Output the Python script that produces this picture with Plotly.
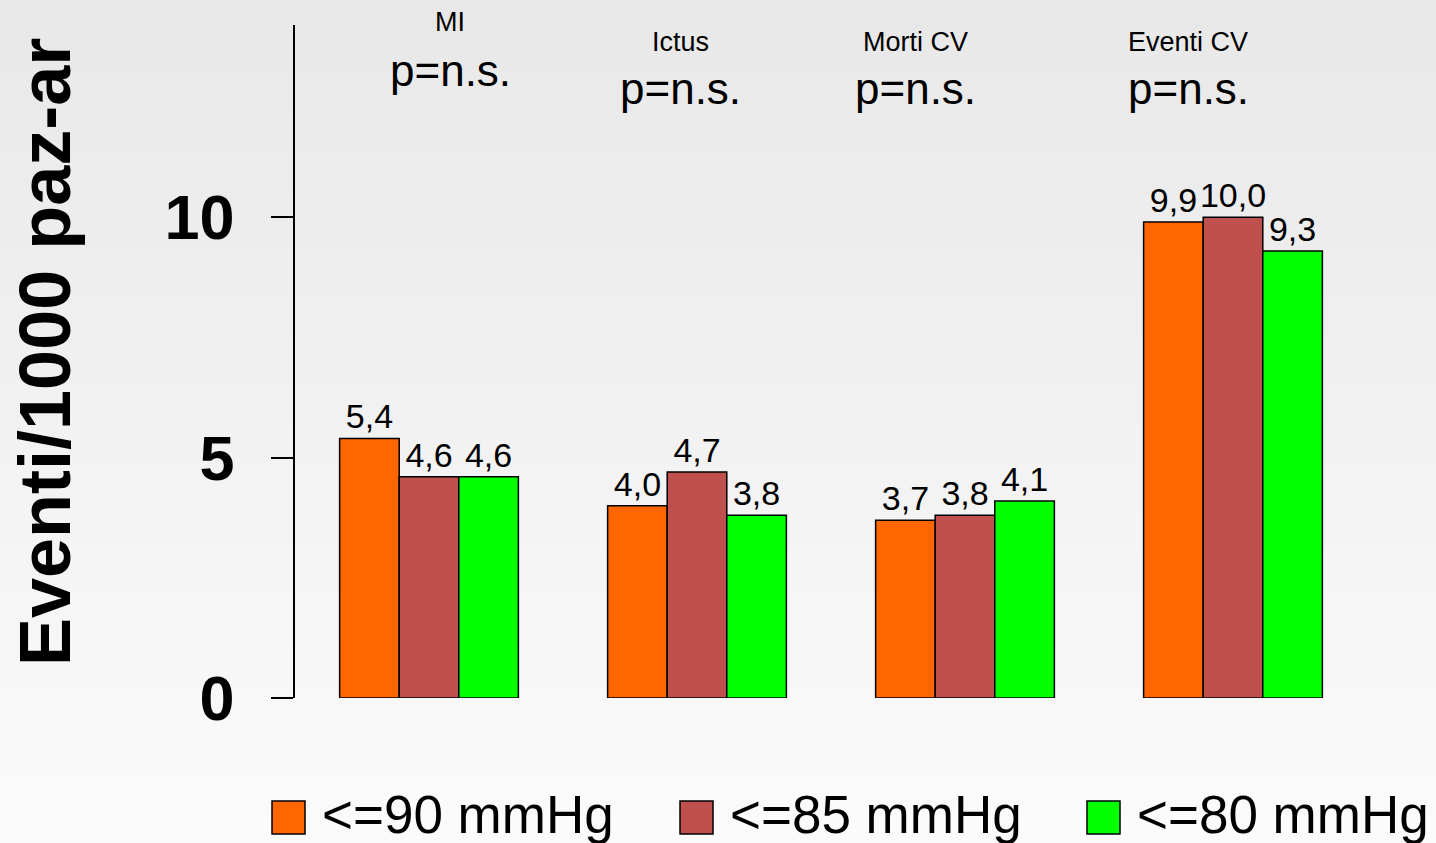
import plotly.graph_objects as go

categories = ["MI", "Ictus", "Morti CV", "Eventi CV"]
series_names = ["<=90 mmHg", "<=85 mmHg", "<=80 mmHg"]
vals_90 = [5.4, 4.0, 3.7, 9.9]
vals_85 = [4.6, 4.7, 3.8, 10.0]
vals_80 = [4.6, 3.8, 4.1, 9.3]
pvalues = ["p=n.s.", "p=n.s.", "p=n.s.", "p=n.s."]
y_ticks = [0, 5, 10]
colors = ["#FF6600", "#C0504D", "#00FF00"]

FONT = "Liberation Sans, Arial, sans-serif"
W, H = 1436, 843
L, R, T, B = 295, 1367, 25, 698

def fmt(v):
    return f"{v:.1f}".replace(".", ",")

fig = go.Figure()
for name, vals, col in zip(series_names, [vals_90, vals_85, vals_80], colors):
    fig.add_trace(go.Bar(
        x=categories, y=vals, name=name,
        marker=dict(color=col, line=dict(color="black", width=1.5)),
        text=[fmt(v) for v in vals], textposition="outside",
        textfont=dict(family=FONT, size=34, color="black"),
        constraintext="none",
        cliponaxis=False, showlegend=False,
    ))

def px_x(px):
    return (px - L) / (R - L)

def px_y(py):
    return (B - py) / (B - T)

shapes = []
# background gradient (styling)
n = 60
for i in range(n):
    t = i / (n - 1)
    c = int(round(232 + (251 - 232) * t))
    shapes.append(dict(type="rect", xref="paper", yref="paper",
                       x0=px_x(0), x1=px_x(W), y0=px_y(H * i / n), y1=px_y(H * (i + 1) / n + 1),
                       fillcolor=f"rgb({c},{c},{c})", line=dict(width=0), layer="below"))

annotations = []
label_pos = [(450, 22, 70), (680, 42, 88), (915, 42, 88), (1188, 42, 88)]
for cat, p, (cx, cy, py) in zip(categories, pvalues, label_pos):
    annotations.append(dict(text=cat, x=px_x(cx), y=px_y(cy), xref="paper", yref="paper",
                            showarrow=False, font=dict(family=FONT, size=27, color="black"),
                            xanchor="center", yanchor="middle"))
    annotations.append(dict(text=p, x=px_x(cx), y=px_y(py), xref="paper", yref="paper",
                            showarrow=False, font=dict(family=FONT, size=44, color="black"),
                            xanchor="center", yanchor="middle"))

# y-axis title
annotations.append(dict(text="<b>Eventi/1000 paz-ar</b>", x=px_x(45), y=px_y(352), xref="paper", yref="paper",
                        showarrow=False, textangle=-90, font=dict(family=FONT, size=72, color="black"),
                        xanchor="center", yanchor="middle"))

# manual legend
leg_x = [272, 680, 1087]
for name, col, lx in zip(series_names, colors, leg_x):
    shapes.append(dict(type="rect", xref="paper", yref="paper",
                       x0=px_x(lx), x1=px_x(lx + 33), y0=px_y(834), y1=px_y(801),
                       fillcolor=col, line=dict(color="black", width=1.5)))
    annotations.append(dict(text=name, x=px_x(lx + 48), y=px_y(814), xref="paper", yref="paper",
                            showarrow=False, font=dict(family=FONT, size=53, color="black"),
                            xanchor="left", yanchor="middle"))

fig.update_layout(
    width=W, height=H,
    margin=dict(l=L, r=W - R, t=T, b=H - B),
    paper_bgcolor="rgba(0,0,0,0)", plot_bgcolor="rgba(0,0,0,0)",
    barmode="group", bargap=0.333, bargroupgap=0,
    shapes=shapes, annotations=annotations,
    xaxis=dict(range=[-0.5, 3.5], showticklabels=False, showline=False, showgrid=False,
               zeroline=False, ticks=""),
    yaxis=dict(range=[0, 14], tickvals=y_ticks, ticktext=[str(v) for v in y_ticks],
               showline=True, linecolor="black", linewidth=1.5, ticks="outside",
               ticklen=22, tickwidth=1.5, tickcolor="black", showgrid=False, zeroline=False,
               tickfont=dict(family=FONT, size=63, color="black", weight="bold"),
               ticklabelstandoff=24),
    font=dict(family=FONT),
)

fig.write_html("out.html")
